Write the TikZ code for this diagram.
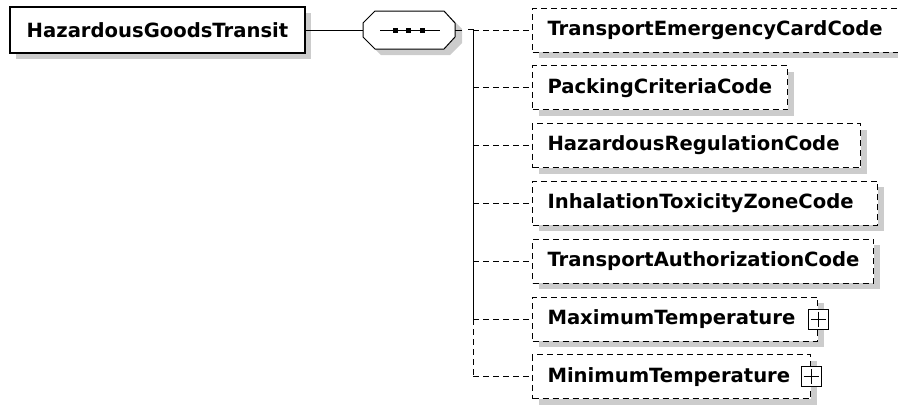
\documentclass[tikz,border=0pt]{standalone}
\usepackage{fontspec}
\setmainfont{DejaVu Sans}
\usetikzlibrary{positioning, shadows, calc}

\begin{document}
\begin{tikzpicture}[x=1pt, y=-1pt, line width=1pt, font=\bfseries\fontsize{19.6}{21}\selectfont]

    % Styles for the schema boxes
    \tikzset{
        boxshadow/.style={drop shadow={shadow xshift=6pt, shadow yshift=-6pt, fill=gray!40, opacity=1}},
        rootbox/.style={draw, line width=1.3pt, fill=white, minimum width=295pt, minimum height=46pt, inner sep=0pt, boxshadow},
        elembox/.style={draw, dash pattern=on 6pt off 4pt, fill=white, anchor=west, align=left, minimum height=44pt, inner ysep=0pt, inner xsep=15pt, boxshadow},
        plusbox/.style={draw, fill=white, minimum size=20pt, inner sep=0pt},
        branch/.style={dash pattern=on 6pt off 4pt}
    }

    \useasboundingbox (0,0) rectangle (898,405);

    % ==========================================
    % Root element
    % ==========================================
    \node[rootbox] (root) at (157.5,30) {HazardousGoodsTransit};

    % ==========================================
    % Sequence compositor
    % ==========================================
    \fill[gray!40] (381,17) -- (450,17) -- (462,29) -- (462,43) -- (450,55) -- (381,55) -- (369,43) -- (369,29) -- cycle;
    \draw[fill=white] (375,11) -- (444,11) -- (455,23) -- (455,37) -- (444,49) -- (375,49) -- (363,37) -- (363,23) -- cycle;
    \coordinate (seqin) at (363,30);
    \coordinate (seqout) at (455,30);
    \draw (380,30) -- (440,30);
    \foreach \x in {395,408,422}
        \fill (\x-2.5,27.5) rectangle (\x+2.5,32.5);

    \draw (root.east) -- (seqin);
    \draw (seqout) -- ++(7,0);

    % ==========================================
    % Child elements
    % ==========================================
    \foreach \i/\txt/\w [evaluate=\w as \tw using \w-30] in {1/TransportEmergencyCardCode/380, 2/PackingCriteriaCode/255,
            3/HazardousRegulationCode/328, 4/InhalationToxicityZoneCode/345,
            5/TransportAuthorizationCode/341, 6/MaximumTemperature/285,
            7/MinimumTemperature/278}
        \node[elembox, text width=\tw pt] (c\i) at (532,{30+57.8*(\i-1)}) {\txt};

    % Expand markers
    \foreach \i in {6,7} {
        \node[plusbox] (p\i) at (c\i.east) {};
        \draw ($(p\i.west)+(3,0)$) -- ($(p\i.east)+(-3,0)$);
        \draw ($(p\i.north)+(0,3)$) -- ($(p\i.south)+(0,-3)$);
    }

    % Branch lines
    \coordinate (bustop) at (473,29);
    \draw (468,29) -- (bustop) -- (bustop |- c6.west);
    \draw[branch] (bustop |- c6.west) -- (bustop |- c7.west);
    \foreach \i in {1,...,7}
        \draw[branch] (bustop |- c\i.west) -- (c\i.west);

\end{tikzpicture}
\end{document}
